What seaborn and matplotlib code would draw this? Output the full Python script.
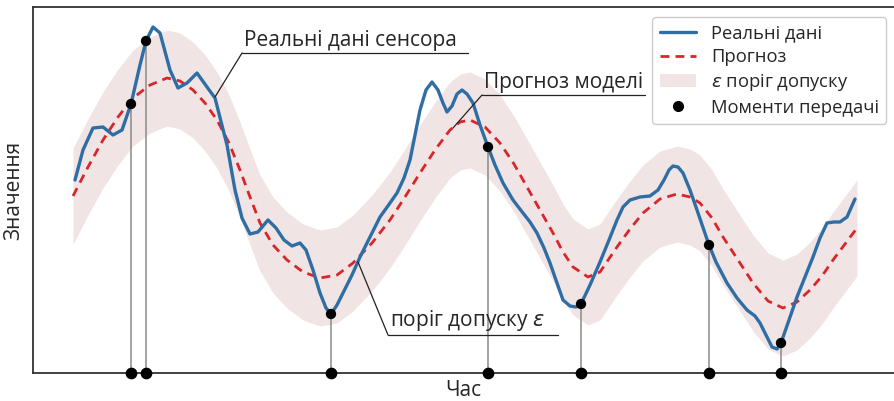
import numpy as np
import pandas as pd
import seaborn as sns
import matplotlib.pyplot as plt
from matplotlib.patches import Patch
from matplotlib.lines import Line2D

# Model forecast (time, value)
forecast_t = [0.0, 1.5, 3.0, 4.5, 6.0, 7.7, 9.4, 10.7, 12.0, 13.2, 14.4, 15.6, 16.7, 17.7,
              18.7, 20.0, 21.4, 23.0, 24.7, 26.4, 28.0, 29.9, 31.7, 33.2, 34.7, 36.2, 37.7,
              38.7, 39.7, 41.2, 42.7, 44.1, 45.4, 46.7, 48.0, 49.0, 50.0, 51.5, 52.7, 54.4,
              55.7, 57.0, 58.7, 60.4, 61.7, 62.7, 63.9, 65.0, 66.5, 68.0, 69.5, 71.0, 72.4,
              73.7, 74.9, 76.0, 77.2, 78.4]
forecast_v = [17.7, 20.6, 23.3, 25.6, 27.5, 28.8, 29.5, 29.2, 28.3, 27.0, 25.3, 23.0, 20.3, 17.6,
              15.0, 12.8, 11.3, 10.1, 9.5, 9.8, 11.0, 13.0, 15.3, 17.6, 20.0, 22.3, 24.3,
              25.1, 25.3, 24.6, 23.0, 20.9, 18.6, 16.3, 14.0, 12.1, 10.6, 9.6, 10.1, 12.6,
              14.4, 16.0, 17.4, 17.9, 17.6, 17.0, 15.5, 13.6, 11.3, 9.0, 7.2, 6.5, 7.1,
              8.3, 9.7, 11.3, 12.9, 14.5]

# Sensor readings (time, value)
sensor_t = [0.2, 1.0, 2.0, 3.0, 4.0, 4.9, 5.8, 6.7, 7.3, 8.0, 8.7, 9.7, 10.5, 11.4, 12.4, 13.4,
            14.2, 15.4, 16.2, 16.9, 17.7, 18.5, 19.5, 20.3, 21.1, 21.9, 22.7, 23.3, 24.0, 24.7,
            25.3, 25.8, 26.4, 27.0, 27.9, 28.7, 29.7, 30.7, 31.7, 32.4, 33.1, 33.7, 34.2, 34.7,
            35.3, 35.9, 36.5, 37.0, 37.4, 37.9, 38.4, 38.9, 39.4, 40.0, 40.7, 41.5, 42.2, 43.0,
            44.0, 45.0, 45.7, 46.4, 47.1, 47.7, 48.4, 49.0, 49.7, 50.3, 50.8, 51.7, 52.7, 53.6,
            54.4, 55.0, 55.7, 56.7, 57.7, 58.5, 59.1, 59.6, 60.0, 60.5, 61.0, 61.7, 62.4, 63.6,
            64.3, 65.4, 66.4, 67.4, 68.2, 68.7, 69.3, 69.9, 70.4, 70.8, 71.6, 72.4, 73.2, 74.0,
            74.7, 75.4, 76.1, 76.7, 77.4, 78.2]
sensor_v = [19.3, 22.3, 24.5, 24.6, 23.8, 24.3, 26.9, 30.8, 33.2, 34.6, 34.0, 30.3, 28.5, 29.0,
            30.0, 28.6, 27.5, 22.8, 18.3, 15.5, 13.9, 14.1, 15.3, 14.5, 13.3, 12.7, 13.0, 12.3,
            10.3, 8.0, 6.5, 5.9, 6.8, 8.0, 9.8, 11.6, 13.6, 15.6, 17.0, 18.0, 19.5, 21.3, 23.8,
            26.3, 28.3, 29.1, 28.3, 27.0, 26.1, 26.7, 27.9, 28.3, 27.9, 27.0, 24.8, 22.6, 20.8,
            19.0, 17.3, 16.0, 15.1, 14.0, 12.5, 11.0, 9.0, 7.3, 6.7, 6.6, 6.9, 8.8, 11.1, 13.3,
            15.3, 16.6, 17.3, 17.6, 17.7, 18.3, 19.3, 20.3, 20.7, 20.6, 20.0, 18.3, 16.3, 12.8,
            11.1, 9.0, 7.5, 6.3, 5.7, 5.0, 3.8, 2.6, 2.4, 3.0, 5.3, 7.6, 9.6, 11.6, 13.5, 15.0,
            15.1, 15.1, 15.6, 17.4]

# Moments when a reading is transmitted
send_t = [5.8, 7.3, 25.8, 41.5, 50.8, 63.6, 70.8]
send_v = [26.9, 33.2, 5.9, 22.6, 6.9, 12.8, 3.0]

epsilon = 4.8

EPS = r"$\varepsilon$"
legend_labels = ["Реальні дані", "Прогноз", EPS + " поріг допуску", "Моменти передачі"]

BLUE = "#2f6ea5"
RED = "#d9262b"
BAND = "#cf9f9f"

sns.set_style("white")
plt.rcParams["font.family"] = ["Open Sans", "DejaVu Sans"]
plt.rcParams["mathtext.fontset"] = "dejavusans"

fig = plt.figure(figsize=(8.94, 4.01), dpi=100)
ax = fig.add_axes([33 / 894, 1 - 373 / 401, 1 - 33 / 894, (373 - 7) / 401])

df_fc = pd.DataFrame({"t": forecast_t, "v": forecast_v})
df_sn = pd.DataFrame({"t": sensor_t, "v": sensor_v})
df_tx = pd.DataFrame({"t": send_t, "v": send_v})

fc_lo = np.array(forecast_v) - epsilon
fc_hi = np.array(forecast_v) + epsilon
ax.fill_between(forecast_t, fc_lo, fc_hi, color=BAND, alpha=0.28, linewidth=0, zorder=1)

# vertical drop lines from each transmitted reading to the time axis
for t, v in zip(send_t, send_v):
    ax.plot([t, t], [0, v], color="#8a8a8a", lw=1.1, zorder=2)

sns.lineplot(data=df_fc, x="t", y="v", ax=ax, color=RED, lw=2.0, sort=False,
             linestyle=(0, (3.2, 2.2)), zorder=3)
sns.lineplot(data=df_sn, x="t", y="v", ax=ax, color=BLUE, lw=2.4, sort=False, zorder=4,
             solid_joinstyle="round", solid_capstyle="round")
sns.scatterplot(data=df_tx, x="t", y="v", ax=ax, color="black", s=55, edgecolor="none", zorder=5)
ax.scatter(send_t, [0] * len(send_t), color="black", s=55, zorder=6, clip_on=False)

ax.set_xlim(-4.0, 82.1)
ax.set_ylim(0, 36.6)
ax.set_xticks([])
ax.set_yticks([])
ax.set_xlabel("Час", fontsize=15, labelpad=5)
ax.set_ylabel("Значення", fontsize=15, labelpad=6)
for side in ["left", "top", "bottom"]:
    ax.spines[side].set_color("#333333")
    ax.spines[side].set_linewidth(1.3)
ax.spines["right"].set_visible(False)

# callouts with underlined labels
callouts = [
    ("Реальні дані сенсора", 16.9, 39.5, 32.0, (14.2, 27.6)),
    ("Прогноз моделі", 40.9, 57.2, 27.8, (38.0, 24.5)),
    ("поріг допуску " + EPS, 31.5, 48.5, 3.8, (28.5, 11.1)),
]
for text, x0, x1, y, target in callouts:
    ax.plot([x0, x1], [y, y], color="#222222", lw=0.9, zorder=6)
    ax.plot([target[0], x0], [target[1], y], color="#222222", lw=0.9, zorder=6)
    ax.text(x0 + 0.2, y + 0.2, text, fontsize=15, ha="left", va="bottom", zorder=7)

handles = [
    Line2D([], [], color=BLUE, lw=2.4),
    Line2D([], [], color=RED, lw=2.0, linestyle=(0, (3.2, 2.2))),
    Patch(facecolor=BAND, alpha=0.28, edgecolor="none"),
    Line2D([], [], color="black", marker="o", linestyle="none", markersize=7),
]
ax.legend(handles, legend_labels, loc="upper right", bbox_to_anchor=(0.991, 0.973),
          borderaxespad=0, fontsize=13.2, frameon=True, framealpha=1,
          edgecolor="#cccccc", fancybox=True, handlelength=2.0, labelspacing=0.32,
          borderpad=0.4)

fig.savefig("out.png", dpi=100)
